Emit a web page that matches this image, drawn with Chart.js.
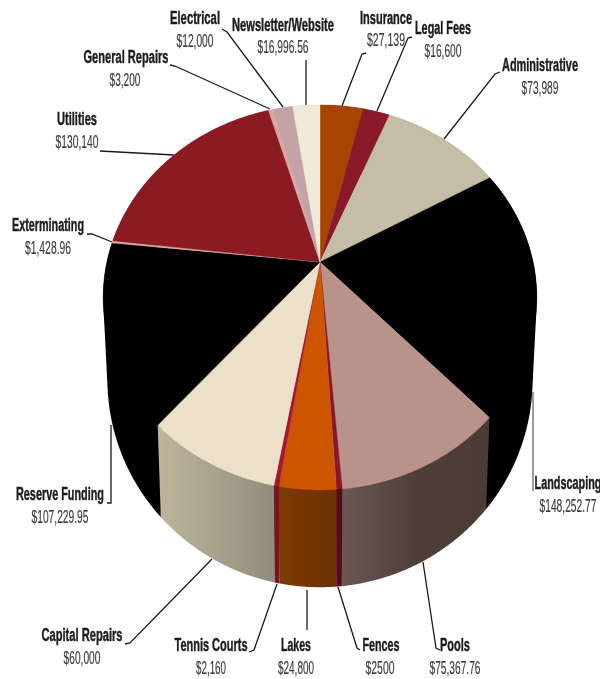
<!DOCTYPE html>
<html>
<head>
<meta charset="utf-8">
<style>html,body{margin:0;padding:0;background:#fff}canvas{display:block}</style>
<script src="https://cdn.jsdelivr.net/npm/chart.js@4/dist/chart.umd.js"></script>
</head>
<body>
<canvas id="c" width="600" height="679"></canvas>
<script>
const categories = ["Insurance","Legal Fees","Administrative","Landscaping","Pools","Fences","Lakes","Tennis Courts","Capital Repairs","Reserve Funding","Exterminating","Utilities","General Repairs","Electrical","Newsletter/Website"];
const values = [27139,16600,73989,148252.77,75367.76,2500,24800,2160,60000,107229.95,1428.96,130140,3200,12000,16996.56];
const valueLabels = ["$27,139","$16,600","$73,989","$148,252.77","$75,367.76","$2500","$24,800","$2,160","$60,000","$107,229.95","$1,428.96","$130,140","$3,200","$12,000","$16,996.56"];
const topColors = ["#a84403","#8a1a2a","#c6bda6","#000000","#b9928a","#8a1428","#cc5500","#a31a30","#ece1c8","#000000","#dba79f","#8b1a22","#d9a6a6","#c3a3a5","#f0ead9"];
const wallStart = ["#7d3a05","#6b1420","#8f8a78","#000000","#6a5852","#5a0d18","#7d3a05","#7d1424","#bfb59d","#000000","#a08078","#6b1420","#a08078","#908078","#b0a898"];
const wallMid = ["#753603","#62101c","#878270","#000000","#4e3f3b","#550c17","#743604","#781323","#a8a18c","#000000","#a08078","#6b1420","#a08078","#908078","#b0a898"];
const wallEnd = ["#6e3303","#5a0d18","#7f7a68","#000000","#4a3b37","#500b16","#6c3203","#741222","#918c7b","#000000","#a08078","#6b1420","#a08078","#908078","#b0a898"];

// Label layout: name centre, value centre, leader polyline
const labelLayout = [
 {n:[386,19],v:[386,41],w:52,vw:38,l:[[366,53],[362,54],[342,106]]},
 {n:[443,29],v:[443,52],w:56,vw:37,l:[[412,37],[408,38],[377,111]]},
 {n:[540,66],v:[540,89],w:76,vw:37,l:[[500,72],[495,74],[444,139]]},
 {n:[568,484],v:[568,507],w:67,vw:57,l:[[533,392],[533,491]],g:1},
 {n:[455,646],v:[455,669],w:30,vw:51,l:[[423,562],[436,648],[440,650]]},
 {n:[381,646],v:[380,669],w:37,vw:29,l:[[338,587],[357,648],[360,650]]},
 {n:[296,646],v:[296,669],w:30,vw:36,l:[[307,590],[307,630]]},
 {n:[211,646],v:[211,669],w:73,vw:30,l:[[249,652],[254,650],[277,584]]},
 {n:[82,636],v:[82,659],w:81,vw:37,l:[[125,644],[130,643],[212,559]]},
 {n:[60,495],v:[60,518],w:88,vw:57,l:[[107,503],[111,503],[111,425]]},
 {n:[48,226],v:[48,249],w:72,vw:46,l:[[87,234],[92,234],[112,242]]},
 {n:[77,120],v:[77,143],w:40,vw:43,l:[[100,151],[174,155]]},
 {n:[126,58],v:[125,81],w:85,vw:31,l:[[170,65],[175,66],[270,109]]},
 {n:[195,19],v:[195,42],w:50,vw:37,l:[[222,29],[227,32],[283,107]]},
 {n:[283,26],v:[283,48],w:102,vw:51,l:[[306,60],[306,105]]}
];

const K = -0.184;
function projectTop(cx,cy,R,a,f){const c=Math.cos(a),s=Math.sin(a),d=1+K*s,r=f||1;return [cx+r*0.982*R*c/d,cy+r*0.857*R*s/d];}
function projectBase(cx,cy,R,a){const c=Math.cos(a),s=Math.sin(a),d=1+K*s;return [cx+0.963*R*c/d,cy+0.364*R+0.926*R*s/d];}
function sample(a0,a1){const n=Math.max(2,Math.ceil(Math.abs(a1-a0)/(Math.PI/360)));const o=[];for(let i=0;i<=n;i++)o.push(a0+(a1-a0)*i/n);return o;}

// Slices keep the library's own angles and radius; only the projection changes.
Chart.ArcElement.prototype.draw = function(ctx){
  const p=this.getProps(['x','y','startAngle','endAngle','outerRadius']);
  const col=this.options.backgroundColor;
  ctx.save();
  ctx.beginPath();
  ctx.moveTo(p.x,p.y);
  sample(p.startAngle,p.endAngle).forEach(a=>{const q=projectTop(p.x,p.y,p.outerRadius,a);ctx.lineTo(q[0],q[1]);});
  ctx.closePath();
  ctx.fillStyle=col;ctx.fill();
  ctx.strokeStyle=col;ctx.lineWidth=0.4;ctx.stroke();
  ctx.restore();
};

function area(q){let s=0;for(let i=0;i<q.length;i++){const a=q[i],b=q[(i+1)%q.length];s+=a[0]*b[1]-b[0]*a[1];}return s;}
function addQuad(ctx,q){
  if(area(q)<0)q=q.slice().reverse();
  q.forEach((p,k)=>k?ctx.lineTo(p[0],p[1]):ctx.moveTo(p[0],p[1]));
  ctx.closePath();
}

const wallsPlugin={id:'walls',beforeDatasetsDraw(chart){
  const ctx=chart.ctx,arcs=chart.getDatasetMeta(0).data;
  const order=arcs.map((e,i)=>i).sort((a,b)=>{
    const m=e=>Math.sin((e.startAngle+e.endAngle)/2);
    return m(arcs[a])-m(arcs[b]);
  });
  ctx.save();
  order.forEach(i=>{
    const e=arcs[i],as=sample(e.startAngle,e.endAngle);
    const t=as.map(a=>projectTop(e.x,e.y,e.outerRadius,a));
    const ti=as.map(a=>projectTop(e.x,e.y,e.outerRadius,a,0.97));
    const b=as.map(a=>projectBase(e.x,e.y,e.outerRadius,a));
    const xs=t.concat(b).map(q=>q[0]);
    const g=ctx.createLinearGradient(Math.min(...xs),0,Math.max(...xs),0);
    g.addColorStop(0,wallStart[i]);g.addColorStop(0.5,wallMid[i]);g.addColorStop(1,wallEnd[i]);
    ctx.beginPath();
    for(let j=0;j<as.length-1;j++){
      addQuad(ctx,[t[j],t[j+1],b[j+1],b[j]]);
      addQuad(ctx,[ti[j],ti[j+1],b[j+1],b[j]]);
    }
    ctx.fillStyle=g;ctx.fill('nonzero');
  });
  ctx.restore();
}};

function squeezed(ctx,text,pos,font,width,color,sw){
  ctx.font=font;ctx.fillStyle=color;ctx.strokeStyle=color;ctx.lineWidth=sw;
  ctx.textAlign='center';ctx.textBaseline='middle';
  ctx.fillText(text,pos[0],pos[1],width);
  ctx.strokeText(text,pos[0],pos[1],width);
}
const labelsPlugin={id:'pieLabels',afterDatasetsDraw(chart){
  const ctx=chart.ctx;
  ctx.save();
  labelLayout.forEach((o,i)=>{
    ctx.beginPath();o.l.forEach((q,j)=>j?ctx.lineTo(q[0],q[1]):ctx.moveTo(q[0],q[1]));
    ctx.strokeStyle=o.g?'#666':'#1a1a1a';ctx.lineWidth=1.3;ctx.stroke();
    squeezed(ctx,categories[i],o.n,"bold 18px 'Liberation Sans'",o.w,'#1c1c1c',0.45);
    squeezed(ctx,valueLabels[i],o.v,"18px 'Liberation Sans'",o.vw,'#3a3a3a',0.15);
  });
  ctx.restore();
}};

new Chart(document.getElementById('c').getContext('2d'),{
  type:'pie',
  data:{labels:categories,datasets:[{data:values,backgroundColor:topColors,borderWidth:0}]},
  options:{
    responsive:false,animation:false,
    layout:{padding:{left:103,right:63,top:45,bottom:200}},
    plugins:{legend:{display:false},tooltip:{enabled:false}}
  },
  plugins:[wallsPlugin,labelsPlugin]
});
</script>
</body>
</html>
